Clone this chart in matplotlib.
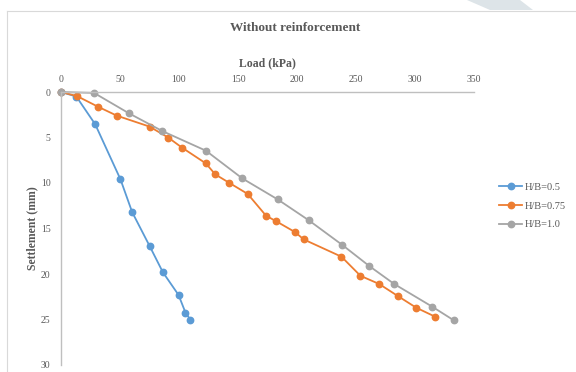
import matplotlib
matplotlib.use("Agg")
import matplotlib.pyplot as plt
from matplotlib.patches import Polygon
from matplotlib.lines import Line2D

plt.rcParams['font.family'] = ['Liberation Serif', 'DejaVu Serif']

load_05 = [0, 13, 29, 50.4, 60.3, 75, 86.3, 99.6, 105.5, 109.5]
sett_05 = [0, 0.5, 3.55, 9.6, 13.2, 16.9, 19.8, 22.3, 24.25, 25.0]

load_075 = [0, 13.6, 31.1, 47.3, 75, 90.8, 102.4, 122.8, 130.7, 142.3, 158.2, 173.8,
            182.3, 198.4, 205.7, 237.7, 253.8, 269.7, 285.2, 301, 317.2]
sett_075 = [0, 0.45, 1.6, 2.6, 3.8, 5.0, 6.1, 7.85, 9.05, 9.96, 11.2, 13.6,
            14.2, 15.4, 16.2, 18.1, 20.2, 21.1, 22.4, 23.7, 24.7]

load_10 = [0, 28, 57.7, 86, 122.8, 153.7, 183.6, 210, 238.3, 261, 282.4, 314.7, 333]
sett_10 = [0, 0.1, 2.35, 4.3, 6.45, 9.5, 11.8, 14.1, 16.8, 19.1, 21.1, 23.6, 25.1]

series_labels = ['H/B=0.5', 'H/B=0.75', 'H/B=1.0']
colors = ['#5B9BD5', '#ED7D31', '#A5A5A5']
x_ticks = [0, 50, 100, 150, 200, 250, 300, 350]
y_ticks = [0, 5, 10, 15, 20, 25, 30]

W, H = 576, 372
fig = plt.figure(figsize=(W / 100, H / 100), dpi=100)

# faint chart frame
fig.add_artist(Line2D([7 / W, 1], [1 - 10.5 / H, 1 - 10.5 / H], color='#d9d9d9', lw=0.8))
fig.add_artist(Line2D([7 / W, 7 / W], [0, 1 - 10.5 / H], color='#d9d9d9', lw=0.8))
# faint watermark band top-right
fig.add_artist(Polygon([[467 / W, 1], [520 / W, 1], [533 / W, 1 - 10 / H], [490 / W, 1 - 10 / H]],
                       closed=True, facecolor='#dde4e8', edgecolor='none'))

left, right = 61 / W, 474 / W
top, bottom = 1 - 92 / H, 1 - 365 / H
ax = fig.add_axes([left, bottom, right - left, top - bottom])

for xs, ys, c, lab in zip([load_05, load_075, load_10], [sett_05, sett_075, sett_10],
                          colors, series_labels):
    ax.plot(xs, ys, color=c, lw=1.3, marker='o', markersize=4.6, label=lab, clip_on=False)

ax.set_xlim(0, 350)
ax.set_ylim(30, 0)
ax.set_xticks(x_ticks)
ax.set_yticks(y_ticks)
ax.xaxis.tick_top()
ax.xaxis.set_label_position('top')
ax.tick_params(length=0, labelsize=7, colors='#595959')
ax.tick_params(axis='x', pad=6)
ax.tick_params(axis='y', pad=7.5)
for s in ['right', 'bottom']:
    ax.spines[s].set_visible(False)
for s in ['top', 'left']:
    ax.spines[s].set_color('#bfbfbf')
    ax.spines[s].set_linewidth(1.0)
ax.set_facecolor('none')

ax.set_xlabel('Load (kPa)', fontsize=8.5, fontweight='bold', color='#595959', labelpad=6)
ax.set_ylabel('Settlement (mm)', fontsize=8.5, fontweight='bold', color='#595959', labelpad=2)

fig.text(295 / W, 1 - 28 / H, 'Without reinforcement', ha='center', va='center',
         fontsize=9.5, fontweight='bold', color='#595959')

leg = ax.legend(loc='center left', bbox_to_anchor=(490 / W, 1 - 206 / H),
                bbox_transform=fig.transFigure, frameon=False, fontsize=7.5,
                handlelength=2.2, handletextpad=0.2, labelspacing=0.9)
for t in leg.get_texts():
    t.set_color('#595959')

fig.savefig('out.png', dpi=100)
